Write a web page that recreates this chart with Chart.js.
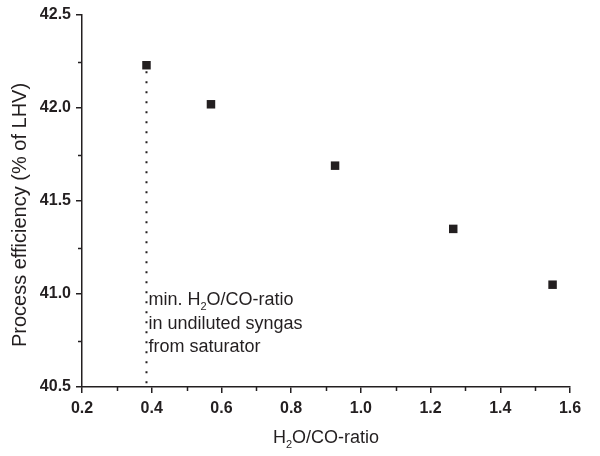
<!DOCTYPE html>
<html>
<head>
<meta charset="utf-8">
<script src="https://cdn.jsdelivr.net/npm/chart.js@4.4.1/dist/chart.umd.min.js"></script>
<style>
  html, body { margin: 0; padding: 0; background: #fff; }
  #wrap { width: 600px; height: 456px; }
</style>
</head>
<body>
<div id="wrap"><canvas id="grafica"></canvas></div>
<script>
var colorNegro = "#231f20";
var fuente = "'Liberation Sans', Arial, sans-serif";

// datos
var ratioH2OCO = [0.385, 0.57, 0.926, 1.265, 1.55];
var eficiencia = [42.23, 42.02, 41.69, 41.35, 41.05];

// linea punteada: ratio minimo en syngas sin diluir
var ratioMinimo = 0.385;
var lineaMinimo = [42.23, 40.5];

var ejeX = { min: 0.2, max: 1.6, paso: 0.2, pasoMenor: 0.1 };
var ejeY = { min: 40.5, max: 42.5, paso: 0.5, pasoMenor: 0.25 };

var tituloY = "Process efficiency (% of LHV)";
// texto con subindice: [normal, subindice, resto]
var tituloX = ["H", "2", "O/CO-ratio"];
var notaLineas = [
    ["min. H", "2", "O/CO-ratio"],
    ["in undiluted syngas"],
    ["from saturator"]
];

// dibuja texto con un subindice opcional
function textoSub(ctx, partes, x, y, size, align) {
    var subSize = Math.round(size * 0.62);
    ctx.font = size + "px " + fuente;
    var w0 = ctx.measureText(partes[0]).width;
    var w2 = partes[2] ? ctx.measureText(partes[2]).width : 0;
    ctx.font = subSize + "px " + fuente;
    var w1 = partes[1] ? ctx.measureText(partes[1]).width : 0;
    var total = w0 + w1 + w2;
    var xi = align === "center" ? x - total / 2 : x;
    ctx.textAlign = "left";
    ctx.textBaseline = "alphabetic";
    ctx.font = size + "px " + fuente;
    ctx.fillText(partes[0], xi, y);
    if (partes[1]) {
        ctx.font = subSize + "px " + fuente;
        ctx.fillText(partes[1], xi + w0, y + size * 0.25);
        ctx.font = size + "px " + fuente;
        ctx.fillText(partes[2], xi + w0 + w1, y);
    }
}

var pluginExtras = {
    id: "extras",
    afterDraw: function (chart) {
        var ctx = chart.ctx;
        var sx = chart.scales.x, sy = chart.scales.y;
        ctx.save();
        ctx.strokeStyle = colorNegro;
        ctx.fillStyle = colorNegro;
        ctx.lineWidth = 1.5;
        // marcas menores
        ctx.beginPath();
        for (var v = ejeX.min + ejeX.pasoMenor; v < ejeX.max; v += ejeX.paso) {
            var px = Math.round(sx.getPixelForValue(v)) + 0.5;
            ctx.moveTo(px, sy.bottom);
            ctx.lineTo(px, sy.bottom + 4);
        }
        for (var w = ejeY.min + ejeY.pasoMenor; w < ejeY.max; w += ejeY.paso) {
            var py = Math.round(sy.getPixelForValue(w)) + 0.5;
            ctx.moveTo(sx.left, py);
            ctx.lineTo(sx.left - 4, py);
        }
        ctx.stroke();
        // titulo del eje y
        ctx.save();
        ctx.translate(20, 215);
        ctx.rotate(-Math.PI / 2);
        ctx.font = "20px " + fuente;
        ctx.textAlign = "center";
        ctx.textBaseline = "middle";
        ctx.fillText(tituloY, 0, 0);
        ctx.restore();
        // titulo del eje x
        textoSub(ctx, tituloX, (sx.left + sx.right) / 2, 443, 18, "center");
        // nota junto a la linea punteada
        var xn = sx.getPixelForValue(ratioMinimo) + 2;
        for (var i = 0; i < notaLineas.length; i++) {
            textoSub(ctx, notaLineas[i], xn, 305 + i * 23.5, 18, "left");
        }
        ctx.restore();
    }
};

var datosGrafica = {
    datasets: [{
        label: "Eficiencia",
        data: ratioH2OCO.map(function (x, i) { return { x: x, y: eficiencia[i] }; }),
        showLine: false,
        pointStyle: "rect",
        pointRadius: 6,
        pointBorderWidth: 0,
        pointBackgroundColor: colorNegro,
        order: 0
    }, {
        label: "Minimo",
        data: lineaMinimo.map(function (y) { return { x: ratioMinimo, y: y }; }),
        showLine: true,
        borderColor: colorNegro,
        borderWidth: 2,
        borderDash: [2, 8],
        borderDashOffset: 4,
        pointRadius: 0,
        order: 1
    }]
};

var configuracion = {
    type: "scatter",
    data: datosGrafica,
    options: {
        responsive: true,
        maintainAspectRatio: false,
        animation: false,
        layout: { padding: { top: 15, right: 30, left: 0, bottom: 0 } },
        plugins: { legend: { display: false }, tooltip: { enabled: false } },
        scales: {
            x: {
                type: "linear",
                min: ejeX.min,
                max: ejeX.max,
                afterFit: function (s) { s.height = 69; },
                border: { display: true, color: colorNegro, width: 1.5 },
                grid: { drawOnChartArea: false, drawTicks: true, tickLength: 6, color: colorNegro, lineWidth: 1.5 },
                ticks: {
                    stepSize: ejeX.paso,
                    padding: 6,
                    color: colorNegro,
                    font: { family: fuente, size: 16, weight: "bold" },
                    callback: function (v) { return v.toFixed(1); }
                }
            },
            y: {
                type: "linear",
                min: ejeY.min,
                max: ejeY.max,
                afterFit: function (s) { s.width = 82; },
                border: { display: true, color: colorNegro, width: 1.5 },
                grid: { drawOnChartArea: false, drawTicks: true, tickLength: 6, color: colorNegro, lineWidth: 1.5 },
                ticks: {
                    stepSize: ejeY.paso,
                    padding: 5,
                    color: colorNegro,
                    font: { family: fuente, size: 16, weight: "bold" },
                    callback: function (v) { return v.toFixed(1); }
                }
            }
        }
    },
    plugins: [pluginExtras]
};

var grafica = new Chart(document.getElementById("grafica"), configuracion);
</script>
</body>
</html>
